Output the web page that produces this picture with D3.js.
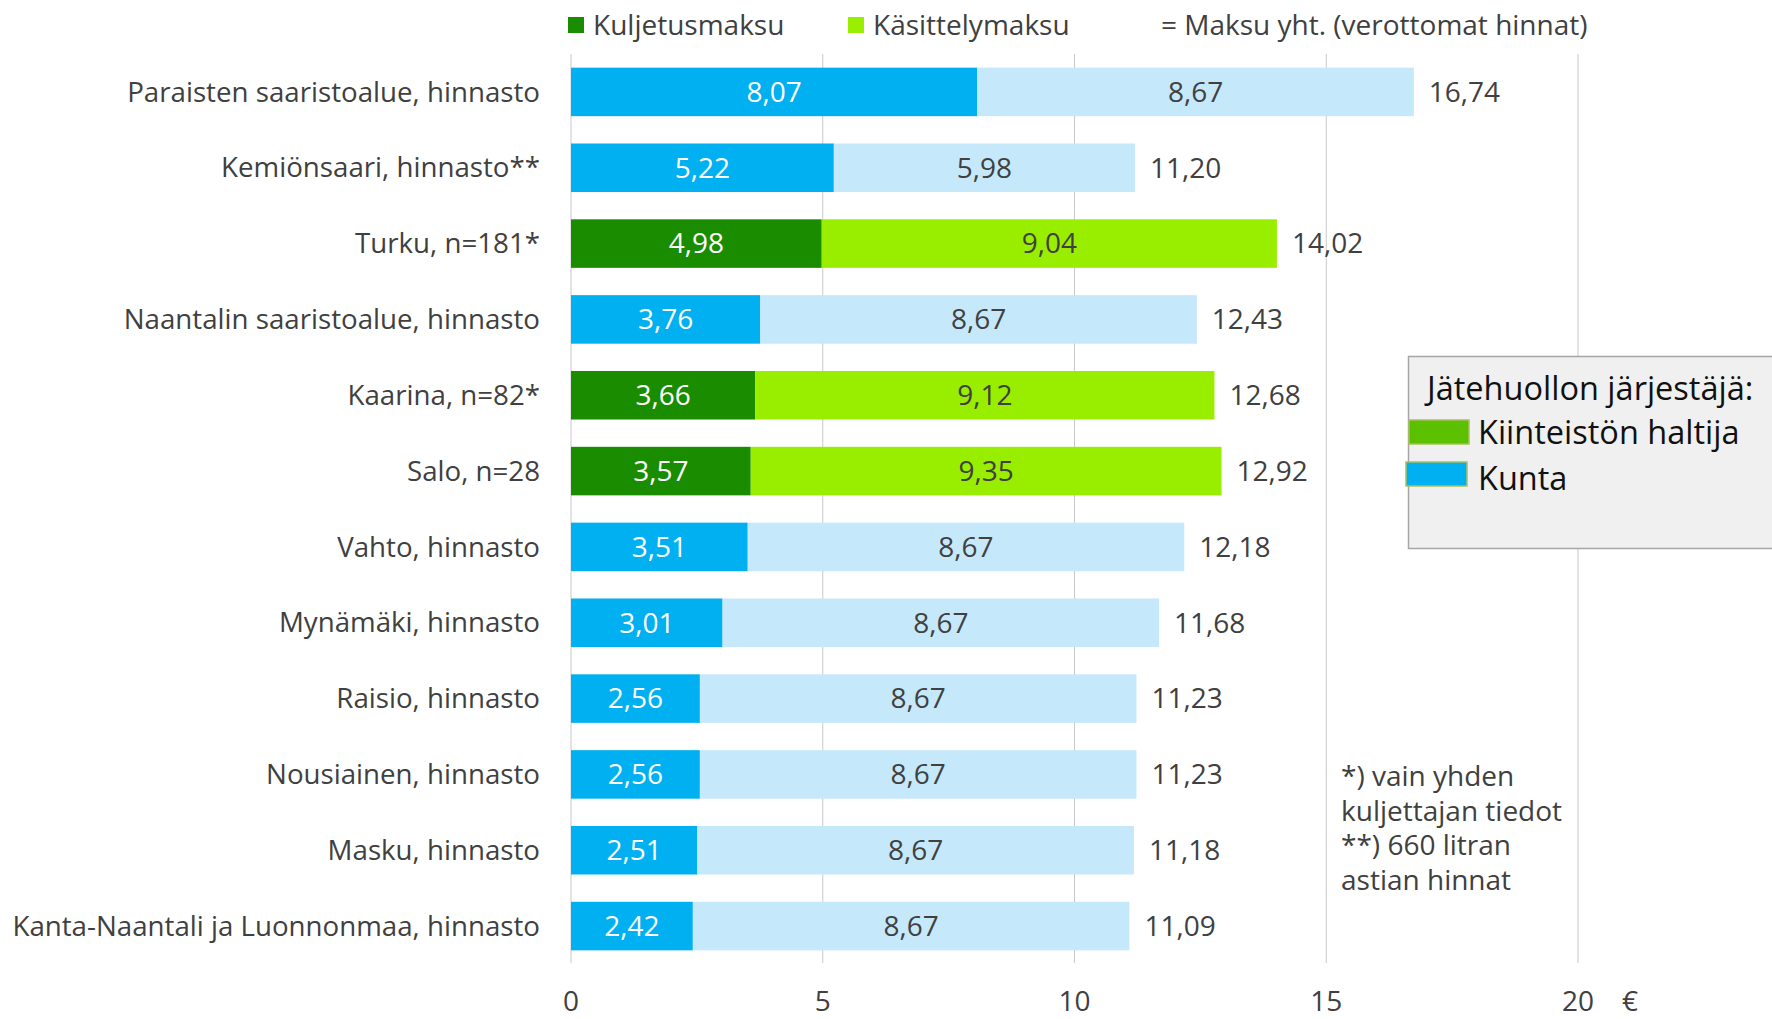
<!DOCTYPE html>
<html>
<head>
<meta charset="utf-8">
<script src="https://cdn.jsdelivr.net/npm/d3@7"></script>
<style>
    body { margin: 0; background: #fff; }
    svg text { font-family: "Open Sans", sans-serif; fill: #404040; }
</style>
</head>
<body>
<div id="chart"></div>
<script>
// data
const categories = [
    'Paraisten saaristoalue, hinnasto',
    'Kemiönsaari, hinnasto**',
    'Turku, n=181*',
    'Naantalin saaristoalue, hinnasto',
    'Kaarina, n=82*',
    'Salo, n=28',
    'Vahto, hinnasto',
    'Mynämäki, hinnasto',
    'Raisio, hinnasto',
    'Nousiainen, hinnasto',
    'Masku, hinnasto',
    'Kanta-Naantali ja Luonnonmaa, hinnasto'
];
const kuljetus = [8.07, 5.22, 4.98, 3.76, 3.66, 3.57, 3.51, 3.01, 2.56, 2.56, 2.51, 2.42];
const kasittely = [8.67, 5.98, 9.04, 8.67, 9.12, 9.35, 8.67, 8.67, 8.67, 8.67, 8.67, 8.67];
const totals = [16.74, 11.20, 14.02, 12.43, 12.68, 12.92, 12.18, 11.68, 11.23, 11.23, 11.18, 11.09];
const organiser = ['Kunta', 'Kunta', 'Kiinteistön haltija', 'Kunta', 'Kiinteistön haltija', 'Kiinteistön haltija',
    'Kunta', 'Kunta', 'Kunta', 'Kunta', 'Kunta', 'Kunta'];
const xTicks = [0, 5, 10, 15, 20];

const width = 1772, height = 1019;
const margin = {top: 54, left: 571, right: 194, bottom: 56};

// väriasetukset
const darkFill = {'Kunta': '#00b0f0', 'Kiinteistön haltija': '#1a8c00'};
const lightFill = {'Kunta': '#c5e8fb', 'Kiinteistön haltija': '#99ee00'};

const fmt = function (v) { return v.toFixed(2).replace('.', ','); };

const svg = d3.select('#chart').append('svg').attr('width', width).attr('height', height);

const x = d3.scaleLinear().domain([0, 20]).range([margin.left, 1578]);
const y = d3.scaleBand().domain(categories).range([margin.top, 964]).paddingInner(0.36).paddingOuter(0.18);

// ruudukko
svg.append('g').selectAll('line').data(xTicks).join('line')
    .attr('x1', d => x(d)).attr('x2', d => x(d))
    .attr('y1', margin.top).attr('y2', 963)
    .attr('stroke', '#c8c8c8').attr('stroke-width', 1);

const rows = categories.map(function (c, i) {
    return {name: c, a: kuljetus[i], b: kasittely[i], total: totals[i], org: organiser[i]};
});

const g = svg.append('g').selectAll('g').data(rows).join('g');

g.append('rect')
    .attr('x', x(0)).attr('y', d => y(d.name))
    .attr('width', d => x(d.a) - x(0)).attr('height', y.bandwidth())
    .attr('fill', d => darkFill[d.org]);

g.append('rect')
    .attr('x', d => x(d.a)).attr('y', d => y(d.name))
    .attr('width', d => x(d.a + d.b) - x(d.a)).attr('height', y.bandwidth())
    .attr('fill', d => lightFill[d.org]);

const mid = d => y(d.name) + y.bandwidth() / 2;

g.append('text')
    .attr('x', d => (x(0) + x(d.a)) / 2).attr('y', mid).attr('dy', '0.35em')
    .attr('text-anchor', 'middle').style('font-size', '28px').style('fill', '#fff')
    .text(d => fmt(d.a));

g.append('text')
    .attr('x', d => (x(d.a) + x(d.a + d.b)) / 2).attr('y', mid).attr('dy', '0.35em')
    .attr('text-anchor', 'middle').style('font-size', '28px')
    .text(d => fmt(d.b));

g.append('text')
    .attr('x', d => x(d.a + d.b) + 15).attr('y', mid).attr('dy', '0.35em')
    .style('font-size', '28px')
    .text(d => fmt(d.total));

// kategoriat
g.append('text')
    .attr('x', 540).attr('y', mid).attr('dy', '0.35em')
    .attr('text-anchor', 'end').style('font-size', '27.7px')
    .text(d => d.name);

// x-akseli
svg.append('g').selectAll('text').data(xTicks).join('text')
    .attr('x', d => x(d)).attr('y', 1011)
    .attr('text-anchor', 'middle').style('font-size', '28px')
    .text(d => d);
svg.append('text').attr('x', 1630).attr('y', 1011)
    .attr('text-anchor', 'middle').style('font-size', '28px').text('€');

// ylälegenda
const topLegend = svg.append('g');
topLegend.append('rect').attr('x', 568).attr('y', 17).attr('width', 16).attr('height', 16).attr('fill', '#1a8c00');
topLegend.append('text').attr('x', 593).attr('y', 25).attr('dy', '0.35em').style('font-size', '28px').text('Kuljetusmaksu');
topLegend.append('rect').attr('x', 848).attr('y', 17).attr('width', 16).attr('height', 16).attr('fill', '#99ee00');
topLegend.append('text').attr('x', 873).attr('y', 25).attr('dy', '0.35em').style('font-size', '28px').text('Käsittelymaksu');
topLegend.append('text').attr('x', 1161).attr('y', 25).attr('dy', '0.35em').style('font-size', '28px').text('= Maksu yht. (verottomat hinnat)');

// järjestäjä-legenda
const box = svg.append('g');
box.append('rect').attr('x', 1408.5).attr('y', 356.5).attr('width', 400).attr('height', 192)
    .attr('fill', '#f0f0f0').attr('stroke', '#a6a6a6').attr('stroke-width', 1.5);
box.append('text').attr('x', 1427).attr('y', 400).style('font-size', '32.5px').style('fill', '#111').text('Jätehuollon järjestäjä:');
box.append('rect').attr('x', 1409).attr('y', 420).attr('width', 60).attr('height', 24)
    .attr('fill', '#5bc000').attr('stroke', '#a8c060').attr('stroke-width', 1.5);
box.append('text').attr('x', 1478).attr('y', 444).style('font-size', '32.5px').style('fill', '#111').text('Kiinteistön haltija');
box.append('rect').attr('x', 1406).attr('y', 462).attr('width', 61).attr('height', 24)
    .attr('fill', '#00b0f0').attr('stroke', '#a8c060').attr('stroke-width', 1.5);
box.append('text').attr('x', 1478).attr('y', 490).style('font-size', '32.5px').style('fill', '#111').text('Kunta');

// alaviitteet
const notes = ['*) vain yhden', 'kuljettajan tiedot', '**) 660 litran', 'astian hinnat'];
svg.append('g').selectAll('text').data(notes).join('text')
    .attr('x', 1341).attr('y', (d, i) => 786 + i * 34.5)
    .style('font-size', '28px').text(d => d);
</script>
</body>
</html>
